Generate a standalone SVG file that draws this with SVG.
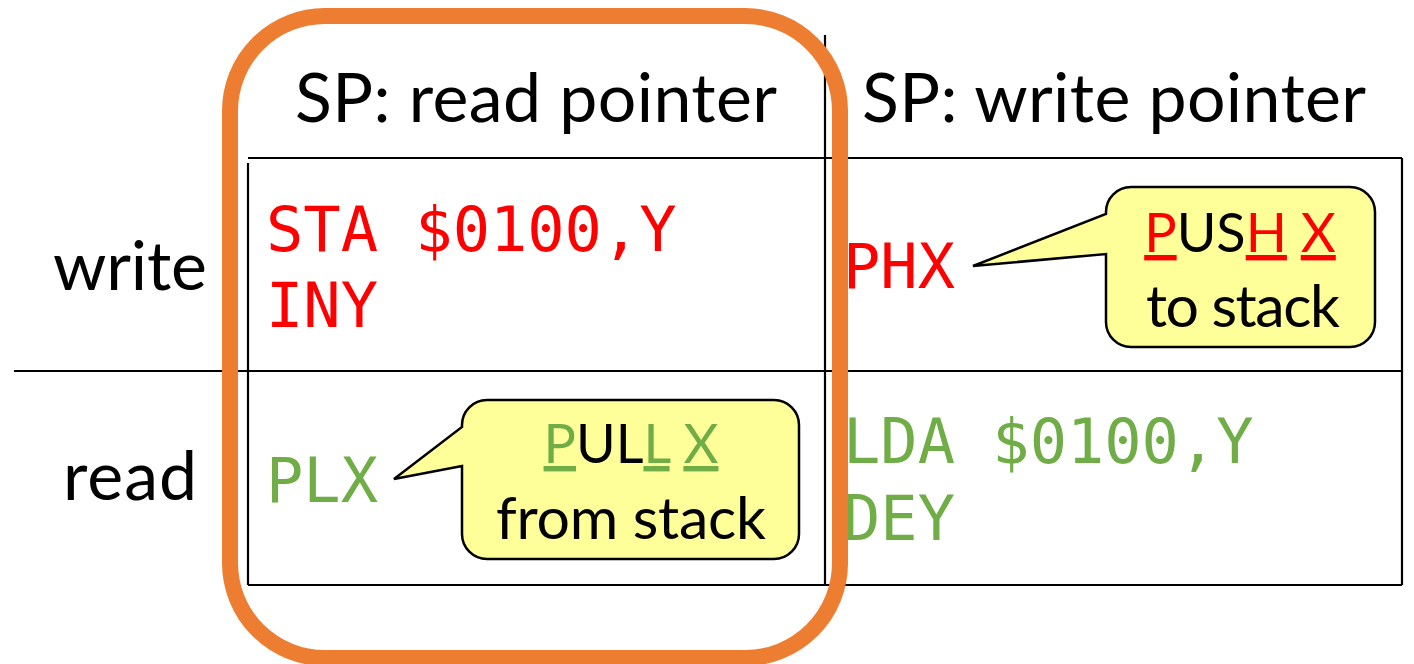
<svg xmlns="http://www.w3.org/2000/svg" width="1414" height="664" viewBox="0 0 1414 664">
<style>
.lbl{font-family:Lato,"Open Sans","Liberation Sans",sans-serif;font-size:68px;fill:#000}
.co{font-family:Lato,"Open Sans","Liberation Sans",sans-serif;font-size:59px;fill:#000}
.co1{font-family:Lato,"Open Sans","Liberation Sans",sans-serif;font-size:54px;fill:#000;text-anchor:middle}
.mono{font-family:"DejaVu Sans Mono","Liberation Mono",monospace;font-size:62px}
.red{fill:#FF0000}
.grn{fill:#70AD47}
.u{text-decoration:underline}
.grid{stroke:#000;stroke-width:2.2;fill:none}
.bubble{fill:#FFFF99;stroke:#000;stroke-width:2.5;stroke-linejoin:miter}
</style>
<rect width="1414" height="664" fill="#fff"/>
<g id="connectors">
  <line class="grid" x1="248" y1="158" x2="1402" y2="158"/>
  <line class="grid" x1="14" y1="371" x2="1402" y2="371"/>
  <line class="grid" x1="248" y1="585" x2="1402" y2="585"/>
  <line class="grid" x1="248" y1="163" x2="248" y2="585"/>
  <line class="grid" x1="825" y1="35" x2="825" y2="585"/>
  <line class="grid" x1="1402" y1="158" x2="1402" y2="585"/>
</g>
<g id="header-read">
  <text class="lbl" x="295" y="122" textLength="482">SP: read pointer</text>
</g>
<g id="header-write">
  <text class="lbl" x="862" y="122" textLength="504">SP: write pointer</text>
</g>
<g id="row-write">
  <text class="lbl" x="53" y="290" textLength="154">write</text>
</g>
<g id="row-read">
  <text class="lbl" x="63" y="500" textLength="134">read</text>
</g>
<g id="cell-write-read">
  <text class="mono red" x="266" y="251">STA $0100,Y</text>
  <text class="mono red" x="266" y="327">INY</text>
</g>
<g id="cell-read-read">
  <text class="mono grn" x="266" y="502">PLX</text>
</g>
<g id="cell-write-write">
  <text class="mono red" x="843" y="288">PHX</text>
</g>
<g id="cell-read-write">
  <text class="mono grn" x="843" y="463">LDA $0100,Y</text>
  <text class="mono grn" x="843" y="540">DEY</text>
</g>
<g id="callout-push">
  <path class="bubble" d="M1131,187 H1350 A25,25 0 0 1 1375,212 V322 A25,25 0 0 1 1350,347 H1131 A25,25 0 0 1 1106,322 V254 L973,266 L1106,214 V212 A25,25 0 0 1 1131,187 Z"/>
  <text class="co1" x="1240" y="252"><tspan class="red u">P</tspan>US<tspan class="red u">H</tspan> <tspan class="red u">X</tspan></text>
  <text class="co" x="1146" y="327" textLength="194">to stack</text>
</g>
<g id="callout-pull">
  <path class="bubble" d="M487,400 H774 A25,25 0 0 1 799,425 V534 A25,25 0 0 1 774,559 H487 A25,25 0 0 1 462,534 V466 L394,479 L462,427 V425 A25,25 0 0 1 487,400 Z"/>
  <text class="co1" x="631" y="463"><tspan class="grn u">P</tspan>UL<tspan class="grn u">L</tspan> <tspan class="grn u">X</tspan></text>
  <text class="co" x="496" y="539" textLength="270">from stack</text>
</g>
<g id="highlight">
  <rect x="230" y="16" width="610" height="642" rx="95" ry="95" fill="none" stroke="#ED7D31" stroke-width="16"/>
</g>
</svg>
